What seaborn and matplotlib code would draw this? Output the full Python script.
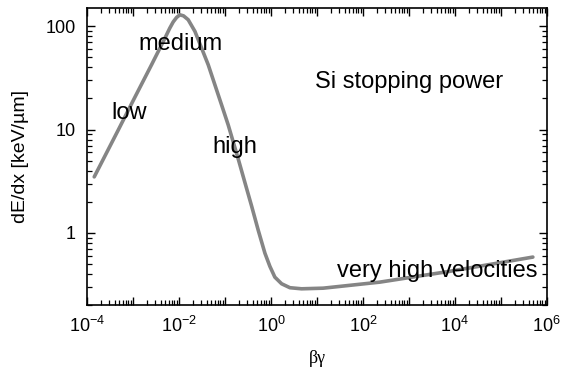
import numpy as np
import pandas as pd
import matplotlib
matplotlib.use("Agg")
import matplotlib.pyplot as plt
import matplotlib.ticker as mticker
import seaborn as sns

# data
beta_gamma = [1.44e-4, 4.8e-4, 1.1e-3, 2.55e-3, 4.97e-3, 6.3e-3, 7.5e-3, 8.9e-3,
              1.05e-2, 1.26e-2, 1.59e-2, 2.23e-2, 3.11e-2, 4.34e-2, 6.07e-2,
              8.47e-2, 0.118, 0.151, 0.195, 0.272, 0.380, 0.530, 0.741, 0.951,
              1.22, 1.71, 2.59, 4.65, 13.7, 234, 7.8e3, 4.97e5]
dEdx = [3.48, 9.9, 20.5, 42.5, 76.7, 95.5, 110, 121.6,
        129, 126, 115.6, 89.1, 61.4, 42.3, 27.0,
        17.3, 11.07, 7.62, 5.18, 3.07, 1.82, 1.06, 0.635, 0.473,
        0.372, 0.321, 0.294, 0.287, 0.291, 0.333, 0.424, 0.582]

annot_texts = ["low", "medium", "high", "Si stopping power", "very high velocities"]
annot_x = [10 ** -3.463, 10 ** -2.885, 10 ** -1.267, 10 ** 0.957, 10 ** 1.428]
annot_y = [10 ** 1.097, 10 ** 1.772, 10 ** 0.769, 10 ** 1.40, 10 ** -0.429]

x_decades = [1e-4, 1e-3, 1e-2, 1e-1, 1e0, 1e1, 1e2, 1e3, 1e4, 1e5, 1e6]
y_ticks = [1, 10, 100]
y_ticklabels = ["1", "10", "100"]

sns.set_theme(style="ticks")
plt.rcParams["font.family"] = ["Liberation Sans", "DejaVu Sans"]
plt.rcParams["mathtext.fontset"] = "custom"
plt.rcParams["mathtext.rm"] = "Liberation Sans"
plt.rcParams["mathtext.it"] = "Liberation Sans:italic"
plt.rcParams["text.color"] = "black"
plt.rcParams["axes.labelcolor"] = "black"
plt.rcParams["xtick.color"] = "black"
plt.rcParams["ytick.color"] = "black"

df = pd.DataFrame({"bg": beta_gamma, "dedx": dEdx})

fig = plt.figure(figsize=(5.72, 3.74), dpi=100)
ax = fig.add_axes([0.152, 0.1845, 0.804, 0.794])
sns.lineplot(data=df, x="bg", y="dedx", ax=ax, color="#858585", linewidth=2.6,
             sort=False)
ax.set_xscale("log")
ax.set_yscale("log")
ax.set_xlim(1e-4, 1e6)
ax.set_ylim(0.2, 150)

ax.xaxis.set_major_locator(mticker.FixedLocator(x_decades))
def xfmt(v, pos):
    e = int(round(np.log10(v)))
    if e % 2 == 0:
        return r"$\mathregular{10^{%d}}$" % e
    return ""
ax.xaxis.set_major_formatter(mticker.FuncFormatter(xfmt))
ax.xaxis.set_minor_locator(mticker.LogLocator(base=10, subs=np.arange(2, 10), numticks=20))
ax.xaxis.set_minor_formatter(mticker.NullFormatter())

ax.yaxis.set_major_locator(mticker.FixedLocator(y_ticks))
ax.yaxis.set_major_formatter(mticker.FixedFormatter(y_ticklabels))
ax.yaxis.set_minor_locator(mticker.LogLocator(base=10, subs=np.arange(2, 10), numticks=20))
ax.yaxis.set_minor_formatter(mticker.NullFormatter())

ax.tick_params(which="both", direction="in", top=True, right=True,
               color="black", labelcolor="black")
ax.tick_params(which="major", length=6, width=1.0, labelsize=13, pad=8)
ax.tick_params(which="minor", length=3.5, width=0.9)
for s in ax.spines.values():
    s.set_visible(True)
    s.set_color("black")
    s.set_linewidth(1.2)

ax.set_xlabel("βγ", fontsize=13, family=["Liberation Serif", "DejaVu Serif"],
              labelpad=10, color="black")
ax.set_ylabel("dE/dx [keV/µm]", fontsize=14, labelpad=12, color="black")

for t, x, y in zip(annot_texts, annot_x, annot_y):
    ax.text(x, y, t, fontsize=17, ha="left", va="baseline", color="black")

fig.savefig("out.png", dpi=100)
